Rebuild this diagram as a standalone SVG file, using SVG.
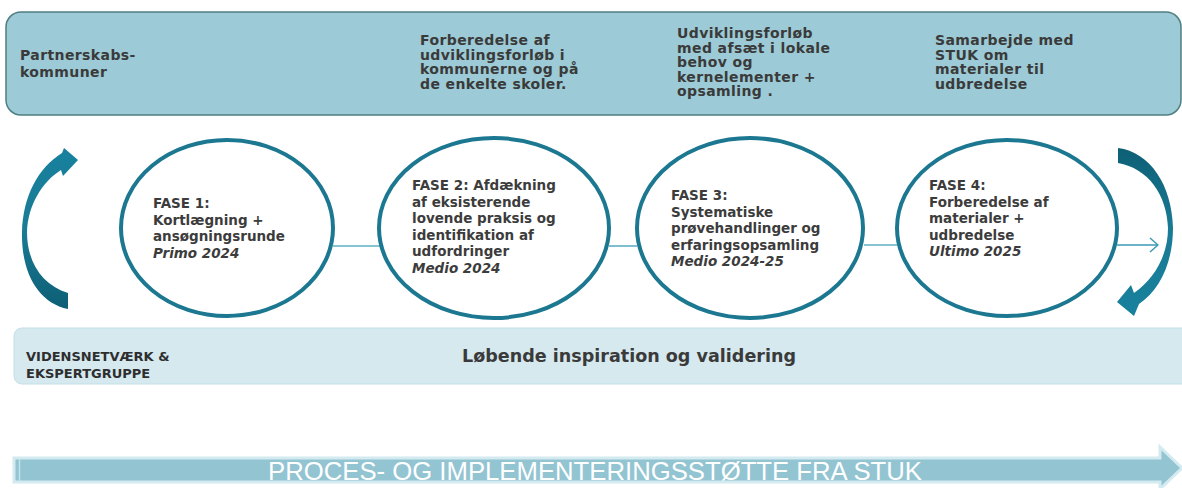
<svg xmlns="http://www.w3.org/2000/svg" width="1182" height="488" viewBox="0 0 1182 488">
<defs>
<style>
.top{font-family:"DejaVu Sans","Verdana",sans-serif;font-weight:bold;font-size:14px;letter-spacing:0.4px;fill:#3a3a3a}
.ph{font-family:"DejaVu Sans","Verdana",sans-serif;font-weight:bold;font-size:13.5px;fill:#3c3c3c}
.it{font-style:italic}
.ring{fill:#ffffff;stroke:#1c7891;stroke-width:4}
.conn{stroke:#5eb0c3;stroke-width:1.6;fill:none}
.band{font-family:"DejaVu Sans","Verdana",sans-serif;font-weight:bold;font-size:13px;fill:#2e2e2e}
</style>
<linearGradient id="gL" x1="0" y1="0" x2="0" y2="1">
<stop offset="0" stop-color="#17819d"/>
<stop offset="0.5" stop-color="#1a7b95"/>
<stop offset="1" stop-color="#0d5f75"/>
</linearGradient>
<linearGradient id="gR" x1="0" y1="0" x2="0" y2="1">
<stop offset="0" stop-color="#0d5f75"/>
<stop offset="0.5" stop-color="#1a7b95"/>
<stop offset="1" stop-color="#17819d"/>
</linearGradient>
<marker id="chev" viewBox="0 0 10 16" refX="9" refY="8" markerWidth="10" markerHeight="16" markerUnits="userSpaceOnUse" orient="auto">
<path d="M1,1 L9,8 L1,15" fill="none" stroke="#3a9ab3" stroke-width="1.5"/>
</marker>
</defs>
<rect width="1182" height="488" fill="#ffffff"/>

<g id="banner">
<rect x="6" y="12" width="1175" height="103" rx="15" ry="15" fill="#9ccad6" stroke="#4f7f80" stroke-width="1.5"/>
<text class="top" x="20" y="60">Partnerskabs-</text>
<text class="top" x="20" y="77">kommuner</text>
<text class="top" x="420" y="45">Forberedelse af</text>
<text class="top" x="420" y="59.5">udviklingsforløb i</text>
<text class="top" x="420" y="74">kommunerne og på</text>
<text class="top" x="420" y="88.5">de enkelte skoler.</text>
<text class="top" x="677" y="38">Udviklingsforløb</text>
<text class="top" x="677" y="52.5">med afsæt i lokale</text>
<text class="top" x="677" y="67">behov og</text>
<text class="top" x="677" y="81.5">kernelementer +</text>
<text class="top" x="677" y="96">opsamling .</text>
<text class="top" x="935" y="45">Samarbejde med</text>
<text class="top" x="935" y="59.5">STUK om</text>
<text class="top" x="935" y="74">materialer til</text>
<text class="top" x="935" y="88.5">udbredelse</text>
</g>

<g id="connectors">
<line class="conn" x1="333" y1="246" x2="380" y2="246"/>
<line class="conn" x1="609" y1="246" x2="637" y2="246"/>
<line class="conn" x1="864" y1="245" x2="897" y2="245"/>
<line x1="1117" y1="245" x2="1158" y2="245" stroke="#3a9ab3" stroke-width="1.5" marker-end="url(#chev)"/>
</g>

<g id="cycle-left">
<path d="M68,309 C38,303 21,272 22,232 C23,196 38,168 62,153 L64,148 L78,160 L63,176 L61,170 C42,182 28,205 27,232 C27,262 42,285 68,293 Z" fill="url(#gL)"/>
</g>
<g id="cycle-right">
<path d="M1118,148 C1150,152 1172,185 1173,228 C1173,262 1160,290 1139,304 L1134,316 L1117,302 L1131,285 L1134,293 C1155,278 1168,255 1168,228 C1167,195 1148,168 1118,163 Z" fill="url(#gR)"/>
</g>

<g id="fase1">
<ellipse class="ring" cx="227" cy="228" rx="106" ry="88"/>
<text class="ph" x="153" y="208">FASE 1:</text>
<text class="ph" x="153" y="224.5">Kortlægning +</text>
<text class="ph" x="153" y="241">ansøgningsrunde</text>
<text class="ph it" x="153" y="258">Primo 2024</text>
</g>

<g id="fase2">
<ellipse class="ring" cx="494" cy="228" rx="115" ry="90"/>
<text class="ph" x="412" y="190">FASE 2: Afdækning</text>
<text class="ph" x="412" y="206.6">af eksisterende</text>
<text class="ph" x="412" y="223.2">lovende praksis og</text>
<text class="ph" x="412" y="239.8">identifikation af</text>
<text class="ph" x="412" y="256.4">udfordringer</text>
<text class="ph it" x="412" y="273">Medio 2024</text>
</g>

<g id="fase3">
<ellipse class="ring" cx="750" cy="228" rx="113" ry="90"/>
<text class="ph" x="671" y="200">FASE 3:</text>
<text class="ph" x="671" y="216.5">Systematiske</text>
<text class="ph" x="671" y="233">prøvehandlinger og</text>
<text class="ph" x="671" y="249.5">erfaringsopsamling</text>
<text class="ph it" x="671" y="266">Medio 2024-25</text>
</g>

<g id="fase4">
<ellipse class="ring" cx="1007" cy="228" rx="110" ry="88"/>
<text class="ph" x="929" y="190">FASE 4:</text>
<text class="ph" x="929" y="206.5">Forberedelse af</text>
<text class="ph" x="929" y="223">materialer +</text>
<text class="ph" x="929" y="239.5">udbredelse</text>
<text class="ph it" x="929" y="256">Ultimo 2025</text>
</g>

<g id="videnskab">
<rect x="14" y="328" width="1180" height="56" rx="8" ry="8" fill="#d5e9ef" stroke="#c3dfe7" stroke-width="1"/>
<text class="band" x="26" y="361">VIDENSNETVÆRK &amp;</text>
<text class="band" x="26" y="378">EKSPERTGRUPPE</text>
<text x="462" y="362" textLength="334" lengthAdjust="spacingAndGlyphs" style="font-family:'DejaVu Sans','Verdana',sans-serif;font-weight:bold;font-size:18px;fill:#3a3a3a">Løbende inspiration og validering</text>
</g>

<g id="proces">
<path d="M14,458 L1160,458 L1160,447 L1182,468 L1160,489 L1160,482 L14,482 Z" fill="#93c4d2" stroke="#d3eaf0" stroke-width="3"/>
<line x1="19.5" y1="459" x2="19.5" y2="481" stroke="#c5e1e8" stroke-width="1.5"/>
<text x="268" y="480" textLength="654" lengthAdjust="spacingAndGlyphs" style="font-family:'Liberation Sans','Arial',sans-serif;font-size:26px;fill:#ffffff">PROCES- OG IMPLEMENTERINGSSTØTTE FRA STUK</text>
</g>
</svg>
